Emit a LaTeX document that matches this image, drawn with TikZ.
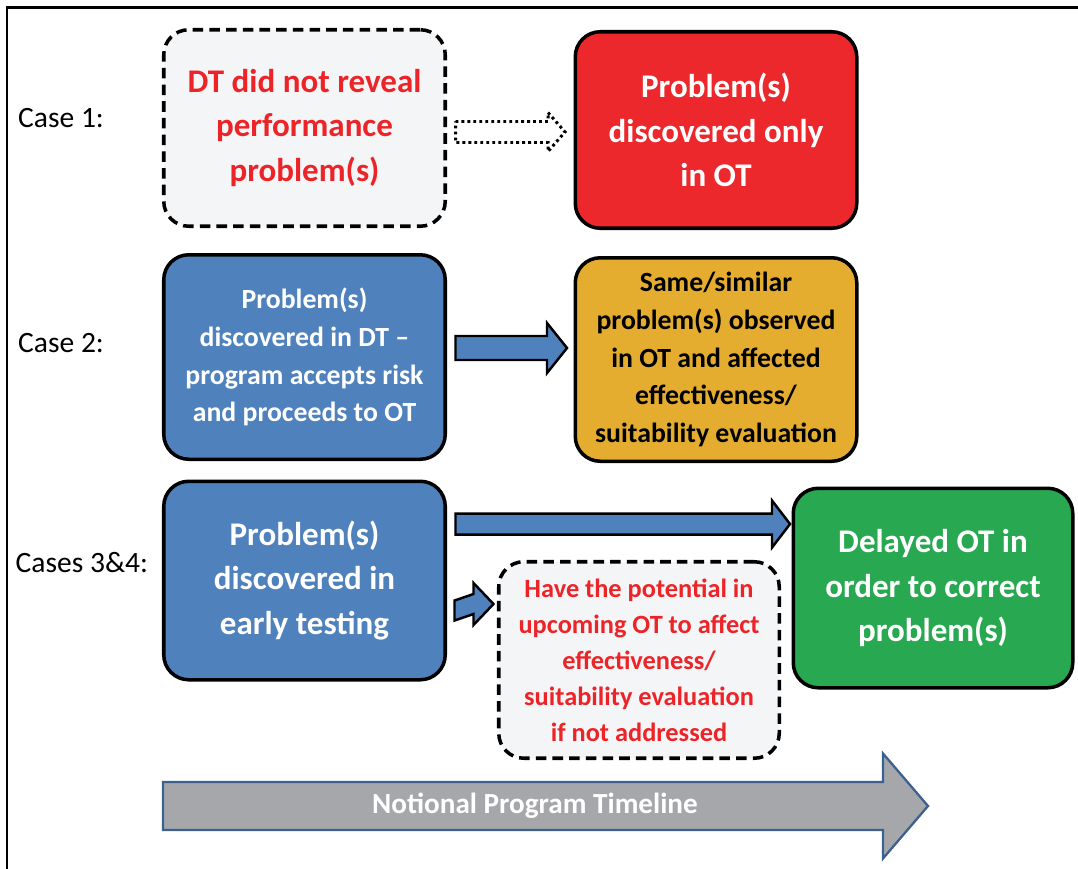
\documentclass[tikz,border=0pt]{standalone}
\usepackage{fontspec}
\setmainfont{Carlito}
\usetikzlibrary{positioning, calc}
\definecolor{boxred}{RGB}{236,40,44}
\definecolor{textred}{RGB}{236,36,40}
\definecolor{paleg}{RGB}{244,245,247}
\definecolor{steel}{RGB}{79,129,189}
\definecolor{gold}{RGB}{229,173,48}
\definecolor{leaf}{RGB}{40,168,80}
\definecolor{tlgray}{RGB}{165,167,170}
\definecolor{tlblue}{RGB}{62,96,140}
\tikzset{
    base/.style={draw, line width=2pt, rounded corners=0.5cm, align=center, minimum width=5.63cm, minimum height=3.93cm},
    bigtext/.style={font=\fontsize{18.8}{25.5}\selectfont\bfseries},
    midtext/.style={font=\fontsize{15.8}{21.5}\selectfont\bfseries},
    smalltext/.style={font=\fontsize{15}{20.5}\selectfont\bfseries},
    dashbox/.style={base, dashed, dash pattern=on 6pt off 3.5pt, fill=paleg, text=textred},
    redbox/.style={base, fill=boxred, text=white},
    bluebox/.style={base, fill=steel, text=white},
    goldbox/.style={base, fill=gold, text=black},
    greenbox/.style={base, fill=leaf, text=white},
    caselabel/.style={anchor=west, font=\fontsize{16.8}{20}\selectfont},
    % block arrow: shaft half width, head half width, head length
    fat arrow/.style n args={3}{to path={
        ($(\tikztostart)+(0,#1)$) -- ($(\tikztotarget)+(-#3,#1)$) -- ($(\tikztotarget)+(-#3,#2)$)
        -- (\tikztotarget) -- ($(\tikztotarget)+(-#3,-#2)$) -- ($(\tikztotarget)+(-#3,-#1)$)
        -- ($(\tikztostart)+(0,-#1)$) -- cycle}},
    bluearrow/.style={draw=black, line width=1.4pt, fill=steel, miter limit=10},
    dotarrow/.style={draw=black, line width=1.7pt, dash pattern=on 1.6pt off 1.8pt, fill=white}
}

\begin{document}
\begin{tikzpicture}
    \useasboundingbox (0,0) rectangle (21.56,-17.38);
    \draw[line width=1.6pt] (0.14,-17.38) -- (0.14,-0.15) -- (21.56,-0.15);

    % case labels
    \node (case1) [caselabel] at (0.24,-2.36) {Case 1:};
    \node (case2) [caselabel] at (0.24,-6.86) {Case 2:};
    \node (case34) [caselabel] at (0.19,-11.25) {Cases 3\&4:};

    % boxes
    \node (nodt) [dashbox, bigtext] at (6.09,-2.56) {DT did not reveal\\performance\\problem(s)};
    \node (onlyot) [redbox, bigtext, right=2.53cm of nodt, yshift=-0.04cm] {Problem(s)\\discovered only\\in OT};
    \node (acceptrisk) [bluebox, midtext, minimum height=4.09cm, below=0.5cm of nodt] {Problem(s)\\discovered in DT --\\program accepts risk\\and proceeds to OT};
    \node (similar) [goldbox, midtext, minimum height=4.07cm, right=2.53cm of acceptrisk, yshift=-0.05cm] {Same/similar\\problem(s) observed\\in OT and affected\\effectiveness/\\suitability evaluation};
    \node (early) [bluebox, bigtext, minimum height=3.97cm, below=0.37cm of acceptrisk] {Problem(s)\\discovered in\\early testing};
    \node (delayed) [greenbox, bigtext, minimum width=5.59cm, minimum height=3.99cm, right=6.89cm of early, yshift=-0.15cm] {Delayed OT in\\order to correct\\problem(s)};
    \node (potential) [dashbox, smalltext, minimum width=5.61cm] at (12.78,-13.2) {Have the potential in\\upcoming OT to affect\\effectiveness/\\suitability evaluation\\if not addressed};

    % connectors
    \draw[dotarrow] ($(nodt.east)+(0.17,-0.08)$) to[fat arrow={0.21}{0.39}{0.34}] ($(onlyot.west)+(-0.17,-0.04)$);
    \draw[bluearrow] ($(acceptrisk.east)+(0.17,0.18)$) to[fat arrow={0.24}{0.5}{0.4}] ($(similar.west)+(-0.13,0.23)$);
    \draw[bluearrow] ($(early.east)+(0.17,1.13)$) to[fat arrow={0.21}{0.47}{0.36}] ($(delayed.west)+(-0.03,1.28)$);
    \draw[bluearrow] ($(early.east)+(0.15,-0.6)$) to[fat arrow={0.2}{0.42}{0.4}] ($(potential.west)+(-0.07,1.12)$);

    % timeline
    \coordinate (tlstart) at (3.26,-16.12);
    \coordinate (tlend) at (18.56,-16.12);
    \draw[draw=tlblue, line width=1.3pt, fill=tlgray] (tlstart) to[fat arrow={0.48}{1.05}{0.9}] (tlend);
    \node (tltext) [text=white, font=\fontsize{16.6}{20}\selectfont\bfseries] at (10.7,-16.12) {Notional Program Timeline};
\end{tikzpicture}
\end{document}
